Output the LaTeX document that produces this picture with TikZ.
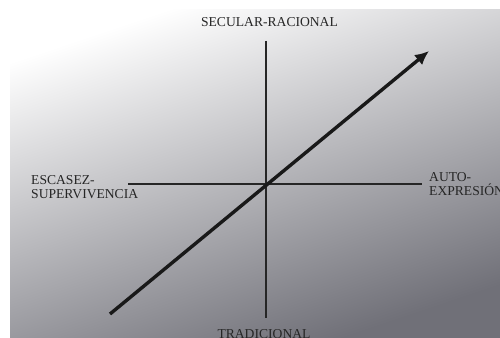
\documentclass[tikz,border=0pt]{standalone}
\usepackage{fontspec}
\setmainfont{Liberation Serif}
\usetikzlibrary{arrows.meta}
\definecolor{bgdark}{RGB}{112,112,120}
\begin{document}
\begin{tikzpicture}[x=1pt,y=-1pt,
  axisline/.style={draw=black!85,line width=1.1pt},
  trend/.style={draw=black!90,line width=3.4pt,-{Latex[length=14pt,width=13pt]}},
  lab/.style={font=\rmfamily\fontsize{13.6}{13.4}\selectfont,text=black!85,inner sep=0pt,align=left}]
\useasboundingbox (0,0) rectangle (500,337);
\shade[top color=white,bottom color=bgdark,shading angle=18.5] (10,10) rectangle (500,337);
\coordinate (vtop) at (266,41);
\coordinate (vbot) at (266,318);
\coordinate (hl) at (128,184);
\coordinate (hr) at (422,184);
\coordinate (astart) at (110,314);
\coordinate (aend) at (429,51);
\draw[axisline] (vtop) -- (vbot);
\draw[axisline] (hl) -- (hr);
\draw[trend] (astart) -- (aend);
\node[lab,anchor=base] (top) at (269.5,26.5) {SECULAR-RACIONAL};
\node[lab,anchor=base west] (left) at (31,198) {ESCASEZ-\\SUPERVIVENCIA};
\node[lab,anchor=base west] (right) at (429,195.3) {AUTO-\\EXPRESIÓN};
\node[lab,anchor=base] (bottom) at (264,338.5) {TRADICIONAL};
\end{tikzpicture}
\end{document}
